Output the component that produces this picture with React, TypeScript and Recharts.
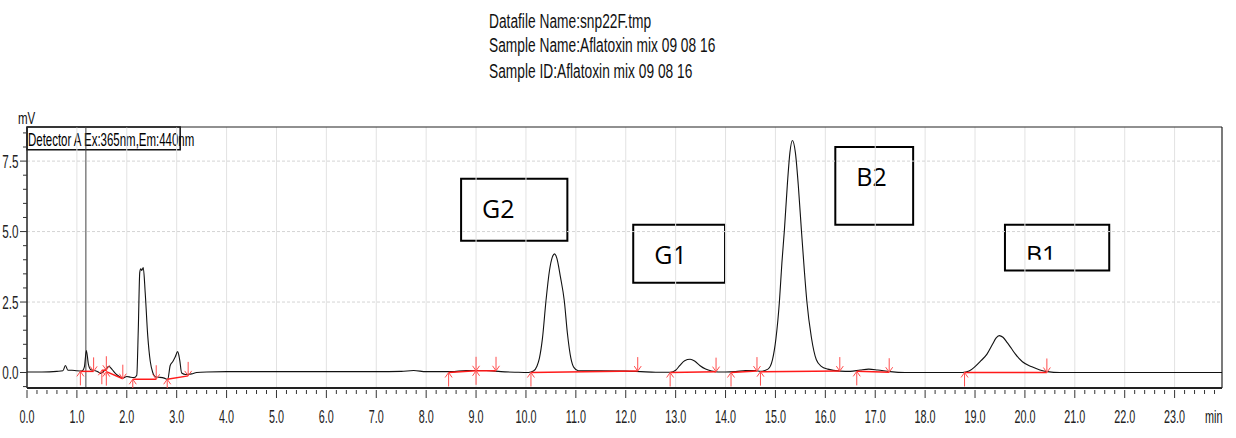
import React from "react";
import {
  ComposedChart,
  Line,
  Scatter,
  XAxis,
  YAxis,
  ReferenceLine,
  ReferenceArea,
} from "recharts";

// chromatogram trace: [time (min), signal (mV)]
const trace: [number, number][] = [
  [0.0, 0.02], [0.3, 0.02], [0.6, 0.04], [0.72, 0.06], [0.77, 0.25], [0.82, 0.08],
  [0.9, 0.08], [1.0, 0.06], [1.1, 0.05], [1.15, 0.2], [1.19, 0.78], [1.23, 0.3],
  [1.28, 0.1], [1.35, 0.07], [1.42, 0.03], [1.47, -0.03], [1.52, 0.02], [1.58, 0.12],
  [1.64, 0.22], [1.7, 0.12], [1.78, -0.05], [1.86, -0.15], [1.92, -0.2], [2.0, -0.14],
  [2.08, -0.17], [2.15, -0.18], [2.2, -0.1], [2.23, 1.5], [2.26, 3.55], [2.28, 3.68],
  [2.3, 3.62], [2.33, 3.72], [2.37, 2.8], [2.42, 1.3], [2.47, 0.4], [2.52, 0.0],
  [2.58, -0.16], [2.65, -0.17], [2.75, -0.2], [2.82, -0.25], [2.87, 0.25], [2.92, 0.38],
  [2.97, 0.55], [3.02, 0.74], [3.06, 0.45], [3.1, -0.02], [3.18, -0.07], [3.3, -0.05],
  [3.4, 0.0], [3.6, 0.02], [4.0, 0.03], [5.0, 0.03], [6.0, 0.03], [7.0, 0.03],
  [7.5, 0.04], [7.75, 0.07], [8.0, 0.03], [8.5, 0.03], [8.8, 0.07], [9.2, 0.07],
  [9.5, 0.03], [9.8, 0.01], [10.05, 0.0],
  // G2
  [10.15, 0.05], [10.22, 0.22], [10.27, 0.51], [10.33, 1.2], [10.4, 2.52], [10.47, 3.6],
  [10.53, 4.1], [10.573, 4.21], [10.62, 4.05], [10.69, 3.4], [10.77, 2.52], [10.83, 1.4],
  [10.9, 0.51], [10.96, 0.18], [11.05, 0.06],
  [11.5, 0.06], [12.0, 0.05], [12.3, 0.03], [12.6, 0.01], [12.9, 0.01],
  // G1
  [13.0, 0.08], [13.08, 0.24], [13.18, 0.42], [13.29, 0.47], [13.38, 0.41], [13.49, 0.24],
  [13.6, 0.12], [13.72, 0.05], [13.85, 0.02],
  [14.0, 0.02], [14.2, 0.03], [14.4, 0.07], [14.6, 0.07], [14.7, 0.04],
  // B2
  [14.85, 0.12], [14.94, 0.45], [15.01, 1.2], [15.08, 2.52], [15.13, 3.9], [15.18, 5.06],
  [15.24, 6.7], [15.29, 7.8], [15.34, 8.23], [15.4, 7.8], [15.46, 6.6], [15.52, 5.06],
  [15.58, 3.6], [15.63, 2.52], [15.72, 1.25], [15.82, 0.45], [15.92, 0.22], [16.05, 0.12],
  [16.3, 0.05], [16.5, 0.04], [16.7, 0.09], [16.87, 0.12], [17.05, 0.09], [17.3, 0.03],
  [17.6, 0.0], [18.0, 0.0], [18.5, 0.0], [18.75, 0.0],
  // B1
  [18.88, 0.05], [19.0, 0.21], [19.12, 0.42], [19.24, 0.65], [19.35, 1.0], [19.42, 1.22],
  [19.485, 1.31], [19.56, 1.25], [19.65, 1.05], [19.73, 0.85], [19.81, 0.65], [19.95, 0.38],
  [20.14, 0.2], [20.3, 0.09], [20.45, 0.03], [20.7, 0.0],
  [21.5, 0.0], [22.5, 0.0], [23.95, 0.0],
];

// integration baselines: [t start, mV start, t end, mV end]
const baselines: [number, number, number, number][] = [
  [1.07, 0.04, 1.335, 0.04],
  [1.5, 0.08, 1.6, 0.08],
  [1.59, 0.03, 1.92, -0.22],
  [2.12, -0.24, 2.59, -0.24],
  [2.81, -0.24, 3.23, -0.12],
  [8.45, 0.0, 9.0, 0.06],
  [9.0, 0.06, 9.4, 0.06],
  [10.1, 0.0, 12.24, 0.05],
  [12.89, 0.0, 13.81, 0.03],
  [14.11, 0.0, 14.63, 0.05],
  [14.7, 0.03, 16.29, 0.05],
  [16.63, 0.04, 17.28, 0.01],
  [18.79, 0.0, 20.44, 0.0],
];

// peak start (up arrow) and peak end (down arrow) markers
const startMarks: [number, number][] = [
  [1.07, 0.04], [1.5, 0.08], [1.59, 0.03], [2.12, -0.24], [2.81, -0.24], [8.45, 0.0],
  [9.0, 0.06], [10.1, 0.0], [12.89, 0.0], [14.11, 0.0], [14.7, 0.03], [16.63, 0.04],
  [18.79, 0.0],
];
const endMarks: [number, number][] = [
  [1.335, 0.04], [1.59, 0.08], [1.92, -0.22], [2.59, -0.24], [3.23, -0.12], [9.0, 0.06],
  [9.4, 0.06], [12.24, 0.05], [13.81, 0.03], [14.63, 0.05], [16.29, 0.05], [17.28, 0.01],
  [20.44, 0.0],
];

// peak name boxes: [label, t left, t right, mV bottom, mV top]
const peakBoxes: [string, number, number, number, number][] = [
  ["G2", 8.7, 10.83, 4.67, 6.87],
  ["G1", 12.15, 13.99, 3.18, 5.24],
  ["B2", 16.2, 17.76, 5.24, 8.0],
  ["B1", 19.6, 21.69, 3.62, 5.24],
];

const xMajor = [0, 1, 2, 3, 4, 5, 6, 7, 8, 9, 10, 11, 12, 13, 14, 15, 16, 17, 18, 19, 20, 21, 22, 23];
const yMajor = [0, 2.5, 5.0, 7.5];
const xMax = 23.95;
const yMin = -0.55;
const yMax = 8.71;
const markerTime = 1.18;

const xTicks = xMajor
  .flatMap((m) => [0, 0.2, 0.4, 0.6, 0.8].map((f) => +(m + f).toFixed(1)))
  .filter((v) => v <= xMax);
const yTicks = [-0.5, ...yMajor.flatMap((m) => [0, 0.5, 1, 1.5, 2].map((f) => m + f))].filter(
  (v) => v >= yMin && v <= yMax
);

const traceData = trace.map(([t, mv]) => ({ t, mv }));
const startData = startMarks.map(([t, mv]) => ({ t, mv }));
const endData = endMarks.map(([t, mv]) => ({ t, mv }));

const narrow = "'Liberation Sans', Arial, sans-serif";
const label = "'Open Sans', 'Noto Sans', sans-serif";

const XTick = (props: any) => {
  const { x, y, payload } = props;
  const v = payload.value as number;
  const major = Math.abs(v - Math.round(v)) < 1e-6;
  return (
    <g>
      <line x1={x} x2={x} y1={y + 2} y2={y + (major ? 10 : 6)} stroke="#333" />
      {major && (
        <text
          transform={`translate(${x},${y + 35}) scale(0.6,1)`}
          textAnchor="middle"
          fontSize={18}
          fontFamily={narrow}
          fill="#222"
        >
          {v.toFixed(1)}
        </text>
      )}
    </g>
  );
};

const YTick = (props: any) => {
  const { x, y, payload } = props;
  const v = payload.value as number;
  const major = yMajor.some((m) => Math.abs(m - v) < 1e-6);
  return (
    <g>
      <line x1={x - (major ? 7 : 4)} x2={x} y1={y} y2={y} stroke="#333" />
      {major && (
        <text
          transform={`translate(${x - 8.5},${y + 6.5}) scale(0.65,1)`}
          textAnchor="end"
          fontSize={18}
          fontFamily={narrow}
          fill="#222"
        >
          {v.toFixed(1)}
        </text>
      )}
    </g>
  );
};

const BoxLabel = (props: any) => {
  const { viewBox, text } = props;
  const { x, y, width } = viewBox;
  const clip = text === "B1";
  return (
    <g>
      {clip && (
        <defs>
          <clipPath id="clipB1">
            <rect x={x} y={y} width={width} height={35} />
          </clipPath>
        </defs>
      )}
      <text
        x={x + 21}
        y={y + 39}
        fontSize={25}
        fontFamily={label}
        fill="#000"
        clipPath={clip ? "url(#clipB1)" : undefined}
      >
        {text}
      </text>
    </g>
  );
};

const DetectorLabel = (props: any) => {
  const { x, y } = props.viewBox;
  return (
    <text
      transform={`translate(${x + 1},${y + 19}) scale(0.62,1)`}
      fontSize={18.5}
      fontFamily={narrow}
      fill="#000"
    >
      Detector A Ex:365nm,Em:440nm
    </text>
  );
};

const UpArrow = (props: any) => {
  const { cx, cy } = props;
  return (
    <path
      d={`M${cx},${cy + 14} L${cx},${cy} M${cx - 3.5},${cy + 5} L${cx},${cy} L${cx + 3.5},${cy + 5}`}
      stroke="#ff4d4d"
      strokeWidth={1}
      fill="none"
    />
  );
};

const DownArrow = (props: any) => {
  const { cx, cy } = props;
  return (
    <path
      d={`M${cx},${cy - 14} L${cx},${cy} M${cx - 3.5},${cy - 5} L${cx},${cy} L${cx + 3.5},${cy - 5}`}
      stroke="#ff4d4d"
      strokeWidth={1}
      fill="none"
    />
  );
};

export default function App() {
  return (
    <div style={{ position: "absolute", left: 0, top: 0, width: 1236, height: 438, background: "#fff" }}>
      <ComposedChart width={1236} height={438} margin={{ top: 127, right: 14, bottom: 10, left: 0 }}>
        <XAxis
          type="number"
          dataKey="t"
          domain={[0, xMax]}
          ticks={xTicks}
          interval={0}
          tick={<XTick />}
          tickLine={false}
          tickSize={0}
          tickMargin={0}
          height={40}
          axisLine={{ stroke: "#222", strokeWidth: 2 }}
          allowDataOverflow
        />
        <YAxis
          type="number"
          domain={[yMin, yMax]}
          ticks={yTicks}
          interval={0}
          tick={<YTick />}
          tickLine={false}
          tickSize={0}
          tickMargin={0}
          width={27}
          axisLine={{ stroke: "#222", strokeWidth: 1.5 }}
          allowDataOverflow
        />
        {xMajor.slice(1).map((v) => (
          <ReferenceLine key={`vx${v}`} x={v} stroke="#e2e2e2" strokeWidth={1} />
        ))}
        {yMajor.slice(1).map((v) => (
          <ReferenceLine key={`hy${v}`} y={v} stroke="#d4d4d4" strokeDasharray="3 2" strokeWidth={1} />
        ))}
        <ReferenceLine y={yMax} stroke="#222" strokeWidth={1.2} />
        <ReferenceLine x={xMax} stroke="#222" strokeWidth={1.2} />
        {peakBoxes.map(([name, x1, x2, y1, y2]) => (
          <ReferenceArea
            key={name}
            x1={x1}
            x2={x2}
            y1={y1}
            y2={y2}
            fill="#fff"
            fillOpacity={1}
            stroke="#000"
            strokeWidth={2}
            label={<BoxLabel text={name} />}
          />
        ))}
        <ReferenceArea
          x1={0}
          x2={3.07}
          y1={7.9}
          y2={yMax}
          fill="#fff"
          fillOpacity={1}
          stroke="#111"
          strokeWidth={1.5}
          label={<DetectorLabel />}
        />
        <ReferenceLine x={markerTime} stroke="#444" strokeWidth={1} />
        <Line
          data={traceData}
          dataKey="mv"
          type="monotone"
          stroke="#111"
          strokeWidth={1.1}
          dot={false}
          isAnimationActive={false}
        />
        {baselines.map(([t1, y1, t2, y2], i) => (
          <Line
            key={`bl${i}`}
            data={[
              { t: t1, mv: y1 },
              { t: t2, mv: y2 },
            ]}
            dataKey="mv"
            type="linear"
            stroke="#ff1a1a"
            strokeWidth={1.5}
            dot={false}
            isAnimationActive={false}
          />
        ))}
        <Scatter data={startData} dataKey="mv" shape={<UpArrow />} isAnimationActive={false} />
        <Scatter data={endData} dataKey="mv" shape={<DownArrow />} isAnimationActive={false} />
      </ComposedChart>
      <svg
        width={1236}
        height={438}
        style={{ position: "absolute", left: 0, top: 0, pointerEvents: "none" }}
      >
        <g fontFamily={narrow} fill="#111">
          <text transform="translate(489,28) scale(0.655,1)" fontSize={21}>
            Datafile Name:snp22F.tmp
          </text>
          <text transform="translate(489,52) scale(0.655,1)" fontSize={21}>
            Sample Name:Aflatoxin mix 09 08 16
          </text>
          <text transform="translate(489,78) scale(0.655,1)" fontSize={21}>
            Sample ID:Aflatoxin mix 09 08 16
          </text>
          <text transform="translate(18,124) scale(0.68,1)" fontSize={17}>
            mV
          </text>
          <text transform="translate(1205,423) scale(0.6,1)" fontSize={18}>
            min
          </text>
        </g>
      </svg>
    </div>
  );
}
